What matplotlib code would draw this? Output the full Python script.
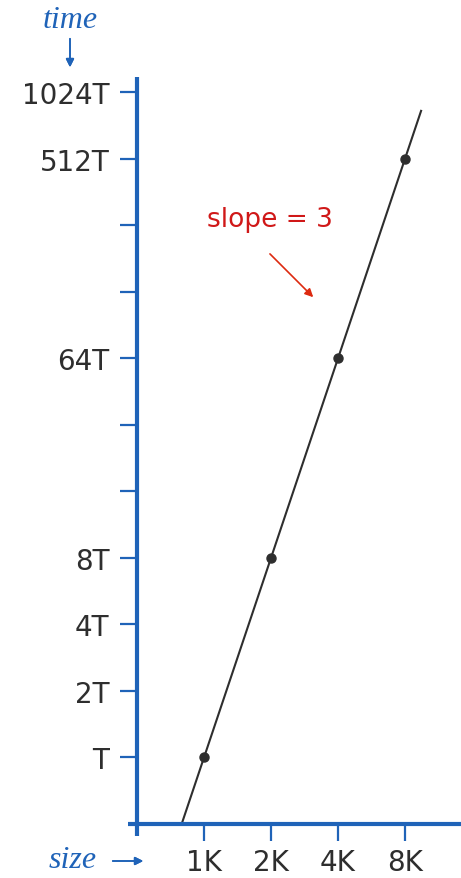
import matplotlib.pyplot as plt

# doubling experiment: problem size (in K) vs running time (in units of T)
sizes = [1, 2, 4, 8]
times = [1, 8, 64, 512]
slope = 3

x_tick_vals = [1, 2, 4, 8]
x_tick_labels = ['1K', '2K', '4K', '8K']
y_tick_vals = [1, 2, 4, 8, 16, 32, 64, 128, 256, 512, 1024]
y_tick_labels = ['T', '2T', '4T', '8T', '', '', '64T', '', '', '512T', '1024T']

# ends of the fitted line (in K)
line_sizes = [0.7, 9.45]

blue = '#1f63b8'
red = '#d01818'
ink = '#2e2e2e'

fig = plt.figure(figsize=(4.61, 8.79), dpi=100)
ax = fig.add_axes([137 / 461, 54 / 879, 1 - 137 / 461, (825 - 78) / 879])

ax.set_xscale('log', base=2)
ax.set_yscale('log', base=2)
ax.set_xlim(0.5, 2 ** 3.836)
ax.set_ylim(0.5, 2 ** 10.23)

# fitted line and measured points
line_times = [s ** slope for s in line_sizes]
ax.plot(line_sizes, line_times, color=ink, lw=1.5)
ax.plot(sizes, times, 'o', color=ink, ms=6.5)

ax.set_xticks(x_tick_vals)
ax.set_xticklabels(x_tick_labels)
ax.set_yticks(y_tick_vals)
ax.set_yticklabels(y_tick_labels)
ax.minorticks_off()
ax.tick_params(axis='both', direction='out', length=12, width=1.6, color=blue,
               labelsize=20, labelcolor=ink)
ax.tick_params(axis='y', pad=8)
ax.tick_params(axis='x', pad=5)

# axes drawn as thick blue lines, slightly overshooting at the corner
for s in ax.spines.values():
    s.set_visible(False)
ax.plot([0, 0], [1, -0.016], color=blue, lw=3, transform=ax.transAxes,
        clip_on=False, solid_capstyle='butt')
ax.plot([-0.028, 1], [0, 0], color=blue, lw=3, transform=ax.transAxes,
        clip_on=False, solid_capstyle='butt')

# slope annotation
ax.text(2 ** 0.985, 2 ** 8.09, 'slope = 3', color=red, fontsize=19,
        ha='center', va='center')
ax.annotate('', xy=(2 ** 1.66, 2 ** 6.89), xytext=(2 ** 0.955, 2 ** 7.6),
            arrowprops=dict(arrowstyle='-|>', color='#dd2a10', lw=1.2,
                            mutation_scale=12))

# axis names
fig.text(70 / 461, 1 - 20 / 879, 'time', color=blue, fontsize=23,
         family='Liberation Serif', style='italic', ha='center', va='center')
fig.add_artist(plt.annotate('', xy=(70 / 461, 1 - 71 / 879),
                            xytext=(70 / 461, 1 - 37 / 879),
                            xycoords='figure fraction',
                            arrowprops=dict(arrowstyle='-|>', color=blue,
                                            lw=1.2, mutation_scale=12)))
fig.text(73 / 461, 1 - 861 / 879, 'size', color=blue, fontsize=23,
         family='Liberation Serif', style='italic', ha='center', va='center')
fig.add_artist(plt.annotate('', xy=(146 / 461, 1 - 862 / 879),
                            xytext=(110 / 461, 1 - 862 / 879),
                            xycoords='figure fraction',
                            arrowprops=dict(arrowstyle='-|>', color=blue,
                                            lw=1.2, mutation_scale=12)))

fig.savefig('out.png', dpi=100)
